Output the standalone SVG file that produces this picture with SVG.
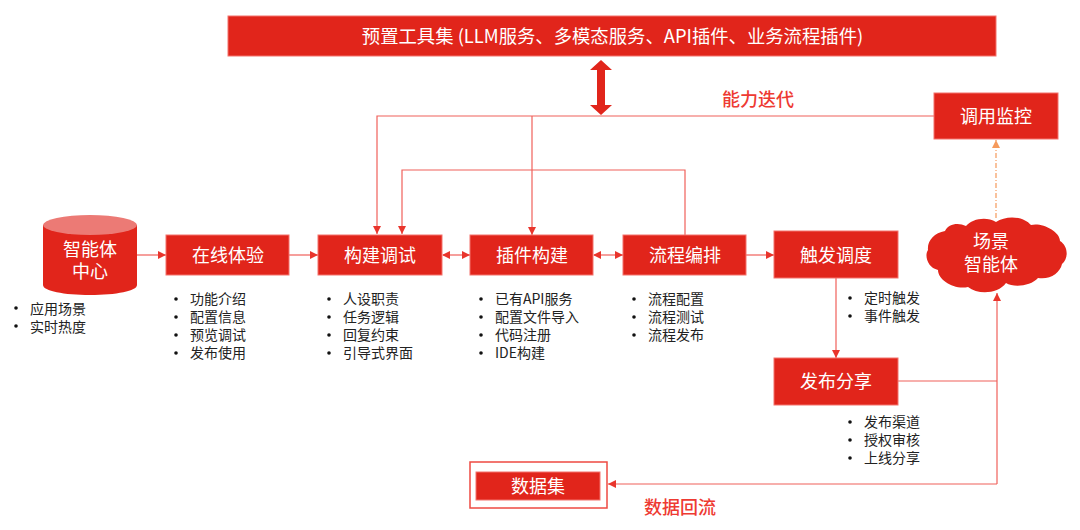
<svg xmlns="http://www.w3.org/2000/svg" width="1080" height="530" viewBox="0 0 1080 530">
<style>
text{font-family:"Noto Sans CJK SC","Noto Sans",sans-serif}
.box{fill:#e1251b;stroke:#f4736c;stroke-width:1}
.lb{fill:#fff;font-size:18px;text-anchor:middle;dominant-baseline:central}
.li{fill:#222;font-size:14px;dominant-baseline:central}
.dot{fill:#111}
.c{fill:none;stroke:#f0605a;stroke-width:1.2}
.hd{fill:#ee3a32;font-size:18px;font-weight:500;text-anchor:middle;dominant-baseline:central}
</style>
<defs>
<marker id="a" markerWidth="9" markerHeight="8" refX="8" refY="4" orient="auto" markerUnits="userSpaceOnUse"><path d="M0 0L8 4L0 8z" fill="#e9352c"/></marker>
<marker id="as" markerWidth="9" markerHeight="8" refX="1" refY="4" orient="auto" markerUnits="userSpaceOnUse"><path d="M8 0L0 4L8 8z" fill="#e9352c"/></marker>
<marker id="o" markerWidth="9" markerHeight="8" refX="8" refY="4" orient="auto" markerUnits="userSpaceOnUse"><path d="M0 0L8 4L0 8z" fill="#f59a5c"/></marker>
</defs>
<rect width="1080" height="530" fill="#fff"/>
<g id="connectors">
<path class="c" d="M934 116H377V234" marker-end="url(#a)"/>
<path class="c" d="M532 116V235" marker-end="url(#a)"/>
<path class="c" d="M685 235V170H402V234" marker-end="url(#a)"/>
<path class="c" d="M137 255H166" marker-end="url(#a)"/>
<path class="c" d="M289 255H318" marker-end="url(#a)"/>
<path class="c" d="M443 255H470" marker-start="url(#as)" marker-end="url(#a)"/>
<path class="c" d="M594 255H623" marker-start="url(#as)" marker-end="url(#a)"/>
<path class="c" d="M746 255H774" marker-end="url(#a)"/>
<path class="c" d="M836 278V358" marker-end="url(#a)"/>
<path class="c" d="M898 381H997"/>
<path class="c" d="M997 484V293" marker-end="url(#a)"/>
<path class="c" d="M997 484H608" marker-end="url(#a)"/>
<path d="M996 218V140" fill="none" stroke="#f59a5c" stroke-width="1.2" stroke-dasharray="5 2 1 2" marker-end="url(#o)"/>
<path d="M601 60L612 70H605V105H612L601 115L590 105H597V70H590z" fill="#e1251b"/>
</g>
<g id="tools"><rect class="box" x="228" y="16" width="768" height="40"/><text class="lb" x="612.500" y="35" style="font-size:18.35px">预置工具集 (LLM服务、多模态服务、API插件、业务流程插件)</text></g>
<text class="hd" x="758" y="98">能力迭代</text>
<g id="monitor"><rect class="box" x="934" y="93" width="124" height="46"/><text class="lb" x="996" y="115">调用监控</text></g>
<g id="hub">
<path d="M43 225V285C43 291 64 295 90 295S137 291 137 285V225z" fill="#e1251b"/>
<ellipse cx="90" cy="225" rx="47" ry="10" fill="#ec7a75"/>
<text class="lb" x="90" y="248">智能体</text><text class="lb" x="90" y="270">中心</text>
<circle class="dot" cx="16" cy="308" r="1.8"/><circle class="dot" cx="16" cy="326" r="1.8"/>
<text class="li" x="30" y="308">应用场景</text><text class="li" x="30" y="326">实时热度</text>
</g>
<g id="online"><rect class="box" x="166" y="235" width="123" height="40"/><text class="lb" x="228" y="254">在线体验</text>
<circle class="dot" cx="176" cy="299" r="1.8"/><circle class="dot" cx="176" cy="317" r="1.8"/><circle class="dot" cx="176" cy="335" r="1.8"/><circle class="dot" cx="176" cy="353" r="1.8"/>
<text class="li" x="190" y="298">功能介绍</text><text class="li" x="190" y="316">配置信息</text><text class="li" x="190" y="334">预览调试</text><text class="li" x="190" y="352">发布使用</text></g>
<g id="build"><rect class="box" x="318" y="235" width="124" height="40"/><text class="lb" x="380" y="254">构建调试</text>
<circle class="dot" cx="329" cy="299" r="1.8"/><circle class="dot" cx="329" cy="317" r="1.8"/><circle class="dot" cx="329" cy="335" r="1.8"/><circle class="dot" cx="329" cy="353" r="1.8"/>
<text class="li" x="343" y="298">人设职责</text><text class="li" x="343" y="316">任务逻辑</text><text class="li" x="343" y="334">回复约束</text><text class="li" x="343" y="352">引导式界面</text></g>
<g id="plugin"><rect class="box" x="470" y="235" width="123" height="40"/><text class="lb" x="532" y="254">插件构建</text>
<circle class="dot" cx="481" cy="299" r="1.8"/><circle class="dot" cx="481" cy="317" r="1.8"/><circle class="dot" cx="481" cy="335" r="1.8"/><circle class="dot" cx="481" cy="353" r="1.8"/>
<text class="li" x="495" y="298">已有API服务</text><text class="li" x="495" y="316">配置文件导入</text><text class="li" x="495" y="334">代码注册</text><text class="li" x="495" y="352">IDE构建</text></g>
<g id="flow"><rect class="box" x="623" y="235" width="123" height="40"/><text class="lb" x="685" y="254">流程编排</text>
<circle class="dot" cx="634" cy="299" r="1.8"/><circle class="dot" cx="634" cy="317" r="1.8"/><circle class="dot" cx="634" cy="335" r="1.8"/>
<text class="li" x="648" y="298">流程配置</text><text class="li" x="648" y="316">流程测试</text><text class="li" x="648" y="334">流程发布</text></g>
<g id="trigger"><rect class="box" x="774" y="231" width="124" height="47"/><text class="lb" x="836" y="254">触发调度</text>
<circle class="dot" cx="850" cy="298" r="1.8"/><circle class="dot" cx="850" cy="316" r="1.8"/>
<text class="li" x="864" y="297">定时触发</text><text class="li" x="864" y="315">事件触发</text></g>
<g id="publish"><rect class="box" x="774" y="358" width="124" height="47"/><text class="lb" x="836" y="380">发布分享</text>
<circle class="dot" cx="850" cy="422" r="1.8"/><circle class="dot" cx="850" cy="440" r="1.8"/><circle class="dot" cx="850" cy="458" r="1.8"/>
<text class="li" x="864" y="421">发布渠道</text><text class="li" x="864" y="439">授权审核</text><text class="li" x="864" y="457">上线分享</text></g>
<g id="scene">
<path d="M945 231C948 224 958 222 966 226C972 219 986 216 996 222C1006 215 1024 216 1031 225C1041 222 1060 231 1060 241C1068 246 1069 258 1062 264C1060 273 1050 280 1038 278C1031 286 1014 288 1006 283C998 294 978 295 968 287C954 290 938 280 938 270C928 268 924 256 928 250C927 241 934 233 945 231z" fill="#e1251b"/>
<text class="lb" x="991" y="240">场景</text><text class="lb" x="991" y="263">智能体</text>
</g>
<g id="dataset"><rect x="470" y="462" width="137" height="46" fill="#fff" stroke="#ee4a42" stroke-width="1.5"/><rect class="box" x="476" y="472" width="124" height="28"/><text class="lb" x="538" y="485">数据集</text></g>
<text class="hd" x="680" y="506">数据回流</text>
</svg>
